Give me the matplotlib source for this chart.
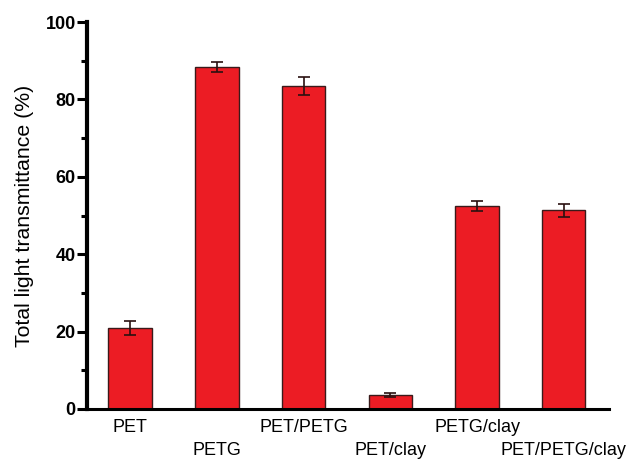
import numpy as np
import matplotlib
matplotlib.use('Agg')
import matplotlib.pyplot as plt
from matplotlib.ticker import MultipleLocator

plt.rcParams['font.family'] = ['Liberation Sans', 'DejaVu Sans']

# Data
samples = ['PET', 'PETG', 'PET/PETG', 'PET/clay', 'PETG/clay', 'PET/PETG/clay']
transmittance = [21.0, 88.3, 83.5, 3.5, 52.5, 51.3]
errors = [1.8, 1.3, 2.3, 0.5, 1.3, 1.8]

fig = plt.figure(figsize=(6.38, 4.61), dpi=100)
ax = fig.add_axes([0.136, 0.113, 0.819, 0.839])

x = np.arange(len(samples))
ax.bar(x, transmittance, width=0.5, color='#ec1c24', edgecolor='#3a1a1a', linewidth=1.0,
       yerr=errors, error_kw=dict(ecolor='#2a1010', elinewidth=1.2, capsize=4, capthick=1.2))

ax.set_xlim(-0.5, 5.525)
ax.set_ylim(0, 100)
ax.yaxis.set_major_locator(MultipleLocator(20))
ax.yaxis.set_minor_locator(MultipleLocator(10))

for s in ['top', 'right']:
    ax.spines[s].set_visible(False)
ax.spines['left'].set_linewidth(3)
ax.spines['bottom'].set_linewidth(2.2)

ax.tick_params(axis='y', which='major', length=7, width=2.2, labelsize=13, pad=1)
ax.tick_params(axis='y', which='minor', length=4, width=2.2)
ax.tick_params(axis='x', length=0, labelbottom=False)
for lbl in ax.get_yticklabels():
    lbl.set_fontweight('bold')

ax.set_ylabel('Total light transmittance (%)', fontsize=15.3, labelpad=8)

# staggered category labels
for i, name in enumerate(samples):
    off = -19 if i % 2 == 0 else -42
    ax.annotate(name, xy=(i, 0), xycoords='data', xytext=(0, off), textcoords='offset pixels',
                ha='center', va='center', fontsize=13, annotation_clip=False)

fig.savefig('out.png', dpi=100)
